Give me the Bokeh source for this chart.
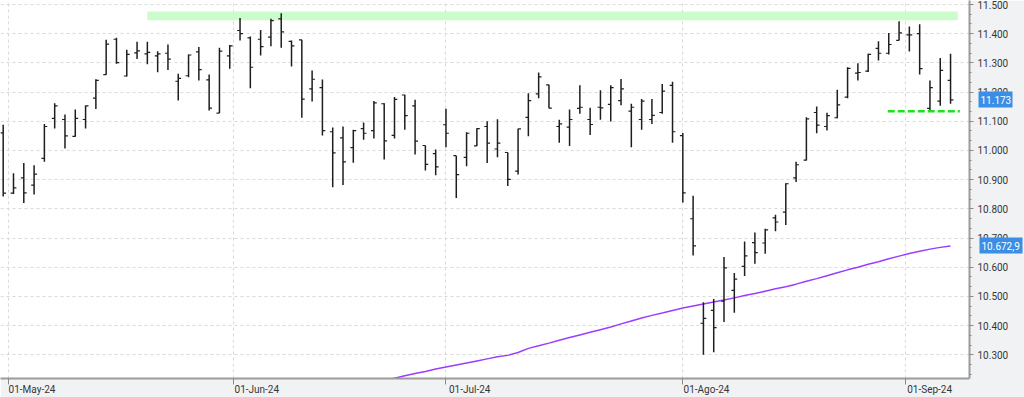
from bokeh.plotting import figure
from bokeh.models import Range1d, FixedTicker, LinearAxis, ColumnDataSource
from bokeh.embed import file_html
from bokeh.resources import INLINE

# ---- data (daily OHLC, 30-Apr-24 .. 06-Sep-24, one entry per trading session) ----
opens = [11060, 10854, 10906, 10881, 10973, 11110, 11106, 11048, 11106, 11179,
         11260, 11381, 11255, 11334, 11331, 11324, 11333, 11237, 11256, 11338,
         11242, 11128, 11324, 11411, 11386, 11381, 11388, 11451, 11374, 11379,
         11211, 11215, 11064, 11043, 11010, 11075, 11068, 11160, 11052, 11190,
         11153, 11017, 10989, 11088, 10982, 10976, 11016, 11082, 11005, 10993,
         10929, 11113, 11194, 11225, 11082, 11080, 11144, 11106, 11148, 11158,
         11171, 11135, 11106, 11106, 11130, 11223, 11051, 10766, 10408, 10452,
         10484, 10521, 10603, 10684, 10683, 10769, 10789, 10906, 10967, 11130,
         11082, 11112, 11183, 11265, 11272, 11350, 11333, 11377, 11396, 11400,
         11144, 11169, 11240]
highs = [11088, 10922, 10957, 10949, 11091, 11162, 11123, 11140, 11154, 11244,
         11379, 11386, 11345, 11372, 11372, 11340, 11363, 11263, 11329, 11354,
         11260, 11352, 11361, 11454, 11390, 11413, 11451, 11470, 11377, 11379,
         11274, 11243, 11079, 11082, 11071, 11096, 11169, 11162, 11183, 11191,
         11174, 11017, 11003, 11143, 10982, 11062, 11076, 11100, 11107, 10993,
         11074, 11196, 11267, 11225, 11105, 11140, 11223, 11146, 11206, 11223,
         11245, 11160, 11176, 11176, 11228, 11235, 11060, 10845, 10480, 10491,
         10635, 10580, 10688, 10719, 10732, 10780, 10888, 10961, 11114, 11151,
         11129, 11208, 11285, 11299, 11331, 11374, 11402, 11443, 11425, 11432,
         11240, 11317, 11331]
lows = [10842, 10851, 10820, 10849, 10961, 11075, 11007, 11047, 11075, 11142,
        11259, 11297, 11253, 11313, 11295, 11268, 11276, 11171, 11251, 11240,
        11137, 11128, 11280, 11377, 11213, 11325, 11357, 11352, 11288, 11112,
        11168, 11051, 10874, 10882, 10958, 11037, 11041, 10969, 11041, 11071,
        10986, 10931, 10915, 11011, 10837, 10946, 11015, 10957, 10977, 10878,
        10918, 11049, 11179, 11145, 11026, 11015, 11126, 11053, 11105, 11099,
        11155, 11011, 11071, 11091, 11126, 11026, 10822, 10640, 10300, 10309,
        10412, 10444, 10570, 10612, 10646, 10723, 10745, 10892, 10966, 11059,
        11068, 11110, 11179, 11240, 11269, 11308, 11329, 11377, 11339, 11260,
        11137, 11153, 11160]
closes = [10854, 10872, 10855, 10919, 11082, 11153, 11050, 11110, 11153, 11240,
          11364, 11301, 11329, 11341, 11336, 11331, 11313, 11247, 11327, 11277,
          11145, 11340, 11358, 11400, 11285, 11356, 11445, 11406, 11358, 11176,
          11244, 11068, 10992, 10961, 11068, 11059, 11163, 11033, 11175, 11119,
          11032, 10952, 10944, 11059, 10917, 11059, 11075, 11025, 11025, 10901,
          11074, 11171, 11252, 11145, 11091, 11106, 11148, 11089, 11146, 11215,
          11211, 11148, 11169, 11120, 11203, 11064, 10855, 10673, 10425, 10393,
          10598, 10559, 10639, 10650, 10728, 10755, 10886, 10951, 11108, 11087,
          11119, 11156, 11281, 11267, 11329, 11333, 11363, 11403, 11396, 11280,
          11215, 11274, 11173]

# moving average (visible part), starting at session index 36
ma_start = 36
ma_values = [10205, 10213, 10220, 10228, 10236, 10243, 10251, 10258, 10265, 10272,
             10279, 10286, 10293, 10298, 10308, 10322, 10331, 10340, 10350, 10359,
             10368, 10377, 10386, 10395, 10406, 10416, 10426, 10435, 10443, 10452,
             10460, 10467, 10474, 10481, 10488, 10495, 10503, 10510, 10518, 10526,
             10533, 10542, 10552, 10561, 10571, 10581, 10591, 10600, 10610, 10619,
             10629, 10638, 10647, 10655, 10662, 10668, 10672.9]

month_ticks = [0.5, 22.33, 43.0, 66.0, 87.67]
month_labels = ["01-May-24", "01-Jun-24", "01-Jul-24", "01-Ago-24", "01-Sep-24"]
y_ticks = [10300, 10400, 10500, 10600, 10700, 10800, 10900, 11000,
           11100, 11200, 11300, 11400, 11500]

band_low, band_high = 11446, 11476
band_from, band_to = 14.0, 92.7
support_level = 11134
support_from, support_to = 85.9, 92.9
close_tag_text = "11.173"
ma_tag_text = "10.672,9"


def fmt(v):
    return f"{int(v):,}".replace(",", ".")


FONT = "Roboto"
TXT = "#363636"
TAG = "#3a8ee6"

n = len(closes)
idx = list(range(n))
src = ColumnDataSource(dict(
    x=idx,
    xl=[i - 0.28 for i in idx],
    xr=[i + 0.28 for i in idx],
    o=opens, h=highs, l=lows, c=closes,
))

p = figure(width=1024, height=397,
           x_range=Range1d(-0.262, 93.84), y_range=Range1d(10218.8, 11513.7),
           y_axis_location="right", toolbar_location=None, output_backend="svg",
           min_border_left=0, min_border_top=0, min_border_right=55, min_border_bottom=19)
p.border_fill_color = "#f1f2f4"
p.background_fill_color = "white"
p.outline_line_color = None

# grids
p.ygrid.ticker = FixedTicker(ticks=y_ticks)
p.xgrid.ticker = FixedTicker(ticks=month_ticks)
for g in (p.xgrid, p.ygrid):
    g.grid_line_color = "#d9d9d9"
    g.grid_line_dash = "3 3"
    g.grid_line_width = 1

# right price axis
ya = p.yaxis[0]
minor = [t + k * 100 / 3 for t in [10200] + y_ticks for k in (1, 2)]
ya.ticker = FixedTicker(ticks=y_ticks, minor_ticks=minor)
ya.major_label_overrides = {t: fmt(t) for t in y_ticks}
ya.axis_line_color = "#9c9c9c"
ya.axis_line_width = 2
ya.major_tick_line_color = "#8a8a8a"
ya.minor_tick_line_color = "#8a8a8a"
ya.major_tick_in = 0
ya.major_tick_out = 4
ya.minor_tick_in = 0
ya.minor_tick_out = 2
ya.major_label_standoff = 4
ya.major_label_text_font = FONT
ya.major_label_text_font_size = "10px"
ya.major_label_text_color = TXT


def price_tag(value, text, tick_in, tick_out, standoff):
    ax = LinearAxis(ticker=FixedTicker(ticks=[value], minor_ticks=[]),
                    major_label_overrides={value: text})
    ax.axis_line_color = None
    ax.major_tick_line_color = TAG
    ax.major_tick_line_width = 16
    ax.major_tick_in = tick_in
    ax.major_tick_out = tick_out
    ax.minor_tick_in = 0
    ax.minor_tick_out = 0
    ax.minor_tick_line_color = None
    ax.major_label_standoff = standoff
    ax.major_label_text_font = FONT
    ax.major_label_text_font_size = "10px"
    ax.major_label_text_color = "white"
    p.add_layout(ax, "right")


# price tags (thick blue ticks of extra right axes form the tag boxes)
price_tag(closes[-1], close_tag_text, 33, 1, -32)
price_tag(ma_values[-1], ma_tag_text, 35, 8, -41)

# bottom date axis: tick marks only
xa = p.xaxis[0]
xa.ticker = FixedTicker(ticks=month_ticks, minor_ticks=[])
xa.major_label_text_color = None
xa.axis_line_color = "#9c9c9c"
xa.axis_line_width = 2
xa.major_tick_line_color = "#8a8a8a"
xa.major_tick_in = 0
xa.major_tick_out = 6

# date labels, placed just right of each month tick
label_shift = 2.3
label_pos = [t + label_shift for t in month_ticks]
xl = LinearAxis(ticker=FixedTicker(ticks=label_pos, minor_ticks=[]),
                major_label_overrides={v: t for v, t in zip(label_pos, month_labels)})
xl.axis_line_color = None
xl.major_tick_line_color = None
xl.minor_tick_line_color = None
xl.major_tick_in = 0
xl.major_tick_out = 0
xl.minor_tick_in = 0
xl.minor_tick_out = 0
xl.major_label_standoff = -1
xl.major_label_text_font = FONT
xl.major_label_text_font_size = "10px"
xl.major_label_text_color = TXT
p.add_layout(xl, "below")

# resistance band
p.quad(left=[band_from], right=[band_to], bottom=[band_low], top=[band_high],
       fill_color="#ccfccc", line_color=None)

# moving average
p.line(x=list(range(ma_start, ma_start + len(ma_values))), y=ma_values,
       line_color="#9b3dff", line_width=1.5)

# OHLC bars
bar_col = "#1e1e1e"
p.segment(x0="x", y0="l", x1="x", y1="h", source=src, line_color=bar_col, line_width=1.5)
p.segment(x0="xl", y0="o", x1="x", y1="o", source=src, line_color=bar_col, line_width=1.2)
p.segment(x0="x", y0="c", x1="xr", y1="c", source=src, line_color=bar_col, line_width=1.2)

# support dashed line
p.line(x=[support_from, support_to], y=[support_level, support_level],
       line_color="#1fe01f", line_width=2.5, line_dash="7 3")

open("out.html", "w").write(file_html(p, INLINE))
